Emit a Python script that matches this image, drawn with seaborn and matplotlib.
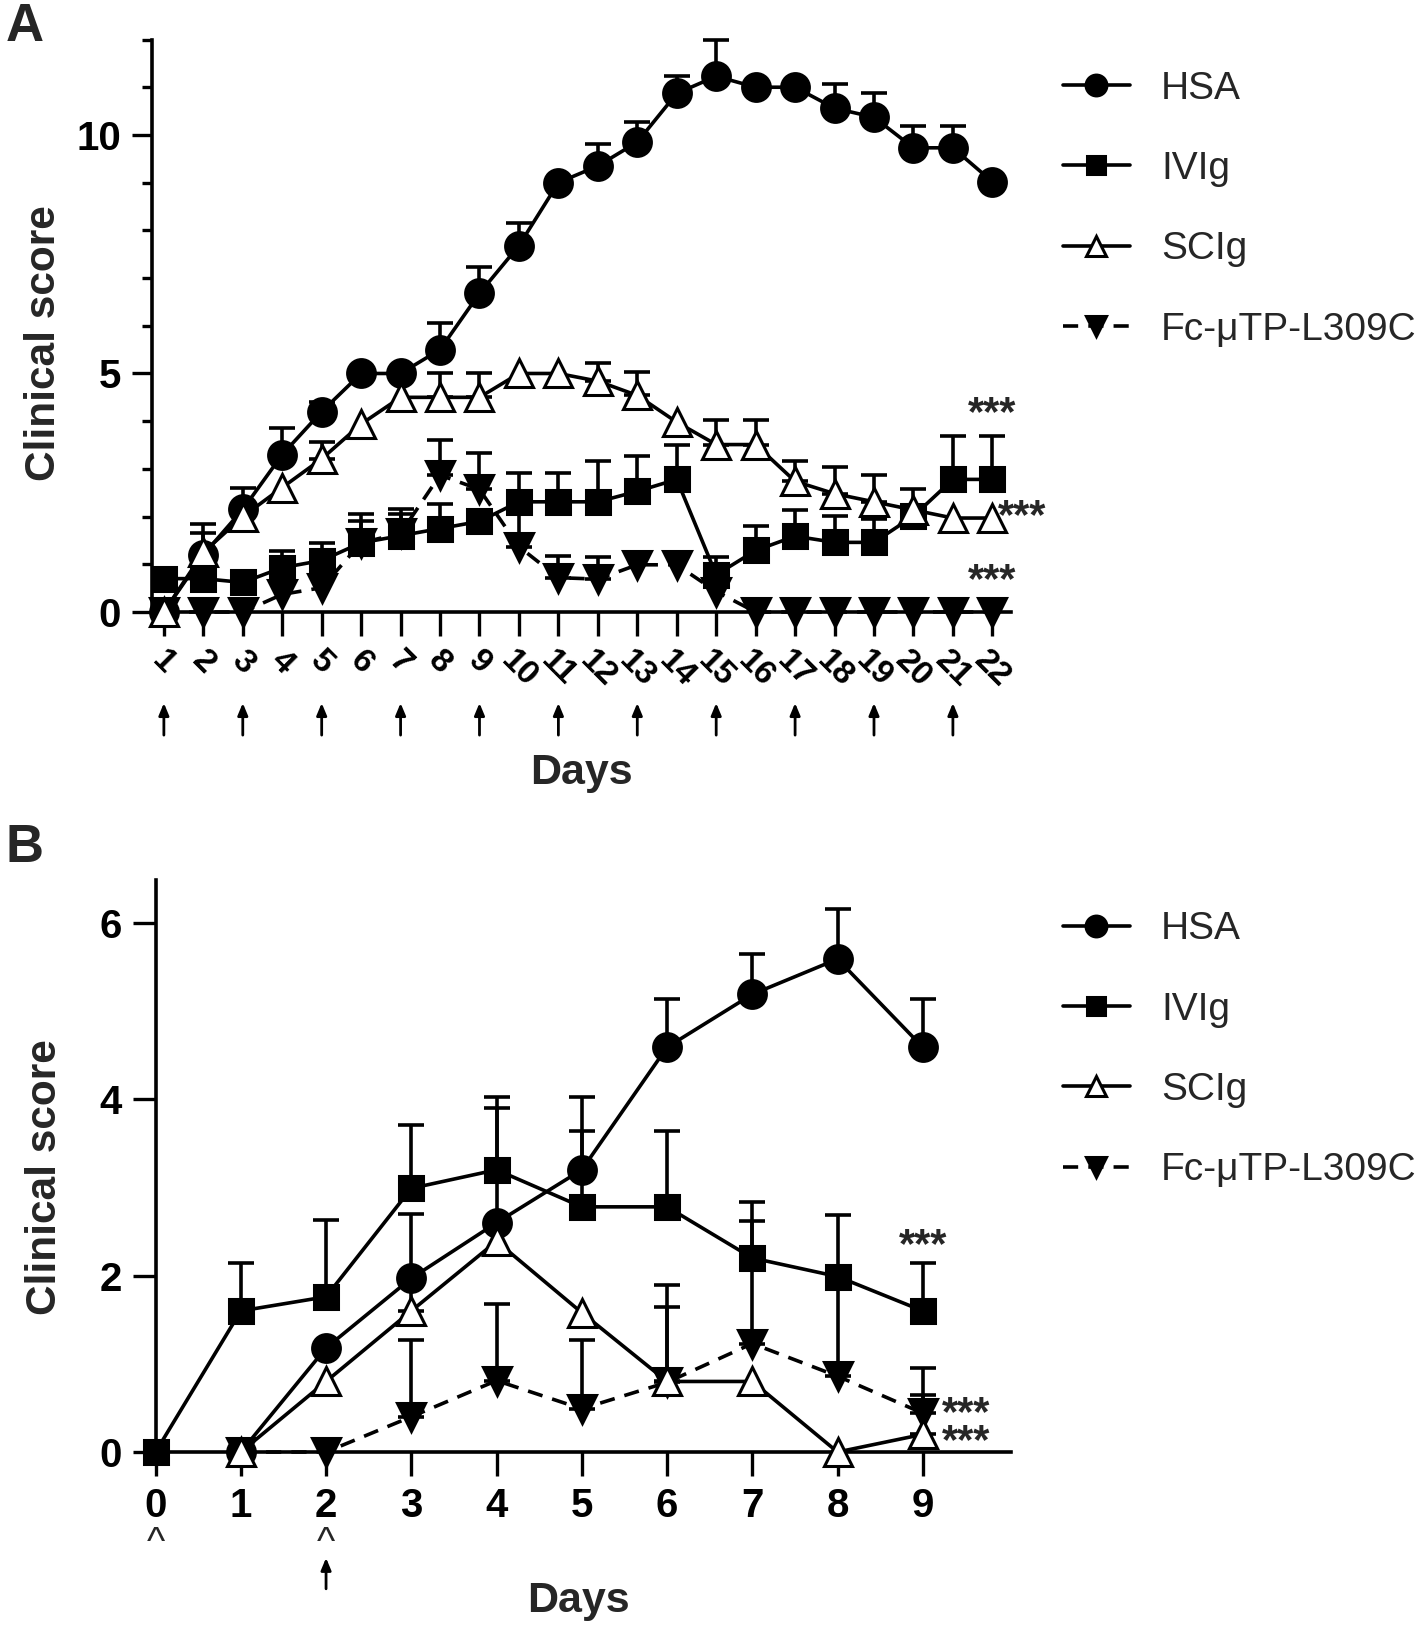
import numpy as np
import matplotlib.pyplot as plt
import seaborn as sns

# ---- panel A data (mean and upper SD) ----
days_a = list(range(1, 23))
hsa_a = [0, 1.2, 2.15, 3.3, 4.2, 5.0, 5.0, 5.5, 6.68, 7.68, 9.0, 9.35, 9.85, 10.87,
         11.23, 11.0, 11.0, 10.56, 10.37, 9.73, 9.73, 9.02]
hsa_a_sd = [0, 0.64, 0.45, 0.55, 0.2, 0, 0, 0.55, 0.55, 0.48, 0, 0.46, 0.42, 0.37,
            0.75, 0, 0, 0.5, 0.5, 0.45, 0.45, 0]
ivig_a = [0.7, 0.7, 0.62, 0.93, 1.08, 1.45, 1.6, 1.75, 1.9, 2.31, 2.31, 2.31, 2.53, 2.78,
          0.78, 1.29, 1.59, 1.46, 1.46, 2.01, 2.78, 2.78]
ivig_a_sd = [0, 0, 0, 0.35, 0.37, 0.6, 0.55, 0.52, 0, 0.6, 0.6, 0.86, 0.73, 0.73,
             0.38, 0.51, 0.55, 0.55, 0.5, 0, 0.9, 0.9]
scig_a = [0, 1.25, 2.0, 2.61, 3.21, 3.94, 4.5, 4.5, 4.5, 5.0, 5.0, 4.84, 4.54, 3.98,
          3.51, 3.51, 2.74, 2.48, 2.31, 2.14, 1.97, 1.97]
scig_a_sd = [0, 0.4, 0, 0, 0.35, 0, 0, 0.51, 0.51, 0, 0, 0.39, 0.5, 0,
             0.52, 0.52, 0.43, 0.56, 0.56, 0.43, 0, 0]
fc_a = [0, 0, 0, 0.37, 0.51, 1.45, 1.65, 2.87, 2.57, 1.37, 0.72, 0.69, 0.99, 0.99,
        0.43, 0, 0, 0, 0, 0, 0, 0]
fc_a_sd = [0, 0, 0, 0, 0, 0.45, 0.4, 0.73, 0.77, 0.95, 0.45, 0.47, 0, 0,
           0, 0, 0, 0, 0, 0, 0, 0]
arrow_days_a = [1, 3, 5, 7, 9, 11, 13, 15, 17, 19, 21]

# ---- panel B data ----
days_b_ivig = list(range(0, 10))
ivig_b = [0, 1.6, 1.76, 2.99, 3.2, 2.78, 2.78, 2.2, 1.99, 1.6]
ivig_b_sd = [0, 0.54, 0.87, 0.72, 0.83, 0.86, 0.86, 0.63, 0.7, 0.54]
days_b = list(range(1, 10))
hsa_b = [0, 1.18, 1.97, 2.6, 3.2, 4.59, 5.19, 5.59, 4.59]
hsa_b_sd = [0, 0, 0, 1.3, 0.83, 0.55, 0.46, 0.57, 0.55]
scig_b = [0, 0.8, 1.6, 2.39, 1.58, 0.8, 0.8, 0, 0.2]
scig_b_sd = [0, 0, 1.1, 0, 0, 0.84, 0, 0, 0.45]
fc_b = [0, 0, 0.4, 0.81, 0.49, 0.79, 1.23, 0.86, 0.44]
fc_b_sd = [0, 0, 0.87, 0.87, 0.78, 1.1, 1.39, 1.1, 0.51]

names = ['HSA', 'IVIg', 'SCIg', 'Fc-\u03bcTP-L309C']

sns.set_theme(style='ticks')
plt.rcParams['font.family'] = ['Liberation Sans', 'DejaVu Sans']

LW = 2.6
styles = {
    'HSA': dict(marker='o', markersize=20, markerfacecolor='black', linestyle='-'),
    'IVIg': dict(marker='s', markersize=17.5, markerfacecolor='black', linestyle='-'),
    'SCIg': dict(marker='^', markersize=20, markerfacecolor='white', linestyle='-'),
    'Fc-\u03bcTP-L309C': dict(marker='v', markersize=20, markerfacecolor='black',
                             linestyle=(0, (4.2, 2.8))),
}


def draw(ax, x, y, sd, name):
    x = np.asarray(x)
    y = np.asarray(y, dtype=float)
    sd = np.asarray(sd, dtype=float)
    m = sd > 0
    ax.errorbar(x[m], y[m], yerr=[np.zeros(m.sum()), sd[m]], fmt='none', ecolor='black',
                elinewidth=LW, capsize=9.5, capthick=LW, zorder=2.6, clip_on=False)
    sns.lineplot(x=x, y=y, ax=ax, color='black', linewidth=LW, markeredgecolor='black',
                 markeredgewidth=2.2, label=name, zorder=3, clip_on=False, **styles[name])


def style_axes(ax):
    for s in ['top', 'right']:
        ax.spines[s].set_visible(False)
    for s in ['left', 'bottom']:
        ax.spines[s].set_linewidth(2.6)
        ax.spines[s].set_color('black')


fig = plt.figure(figsize=(14.18, 16.26), dpi=100)

# ================= Panel A =================
axA = fig.add_axes([0.1075, 0.6236, 0.6054, 0.3521])
draw(axA, days_a, hsa_a, hsa_a_sd, 'HSA')
draw(axA, days_a, ivig_a, ivig_a_sd, 'IVIg')
draw(axA, days_a, fc_a, fc_a_sd, 'Fc-\u03bcTP-L309C')
draw(axA, days_a, scig_a, scig_a_sd, 'SCIg')
style_axes(axA)
axA.set_xlim(0.71, 22.47)
axA.set_ylim(0, 12)
axA.set_yticks([0, 5, 10])
axA.set_yticks(range(0, 13), minor=True)
axA.set_yticklabels(['0', '5', '10'], fontsize=29, fontweight='bold')
axA.set_xticks(days_a)
axA.set_xticklabels([str(d) for d in days_a], rotation=-45, ha='center', va='top',
                    fontsize=24, fontweight='bold')
axA.tick_params(axis='y', which='major', length=14.5, width=2.4, pad=8, colors='black')
axA.tick_params(axis='y', which='minor', length=7.5, width=2.4, colors='black')
axA.tick_params(axis='x', which='major', length=17, width=2.4, pad=7, colors='black')
axA.set_xlabel('')
axA.set_ylabel('')
axA.text(-0.126, 0.47, 'Clinical score', transform=axA.transAxes, rotation=90,
         ha='center', va='center', fontsize=30.5, fontweight='bold')
axA.text(0.5, -0.281, 'Days', transform=axA.transAxes, ha='center', va='center',
         fontsize=31, fontweight='bold')
for d in arrow_days_a:
    axA.annotate('', xy=(d, -0.159), xytext=(d, -0.215),
                 xycoords=('data', 'axes fraction'), textcoords=('data', 'axes fraction'),
                 arrowprops=dict(arrowstyle='-|>,head_length=0.6,head_width=0.25',
                                 color='black', lw=2.0, shrinkA=0, shrinkB=0),
                 annotation_clip=False)
axA.text(22, 4.15, '***', ha='center', va='center', fontsize=30, fontweight='bold')
axA.text(22.75, 2.0, '***', ha='center', va='center', fontsize=30, fontweight='bold',
         clip_on=False)
axA.text(22, 0.65, '***', ha='center', va='center', fontsize=30, fontweight='bold')

# ================= Panel B =================
axB = fig.add_axes([0.1097, 0.107, 0.603, 0.352])
draw(axB, days_b, hsa_b, hsa_b_sd, 'HSA')
draw(axB, days_b_ivig, ivig_b, ivig_b_sd, 'IVIg')
draw(axB, days_b, fc_b, fc_b_sd, 'Fc-\u03bcTP-L309C')
draw(axB, days_b, scig_b, scig_b_sd, 'SCIg')
style_axes(axB)
axB.set_xlim(0, 10.03)
axB.set_ylim(0, 6.49)
axB.set_yticks([0, 2, 4, 6])
axB.set_yticklabels(['0', '2', '4', '6'], fontsize=29, fontweight='bold')
axB.set_xticks(days_b_ivig)
axB.set_xticklabels([str(d) for d in days_b_ivig], fontsize=29, fontweight='bold')
axB.tick_params(axis='y', length=16.5, width=2.4, pad=8, colors='black')
axB.tick_params(axis='x', length=17, width=2.4, pad=8, colors='black')
axB.set_xlabel('')
axB.set_ylabel('')
axB.text(-0.129, 0.48, 'Clinical score', transform=axB.transAxes, rotation=90,
         ha='center', va='center', fontsize=30.5, fontweight='bold')
fig.text(0.408, 0.003, 'Days', ha='center', va='bottom', fontsize=31, fontweight='bold')
for d in [0, 2]:
    axB.text(d, -0.178, '^', transform=axB.get_xaxis_transform(), ha='center',
             va='baseline', fontsize=28)
axB.annotate('', xy=(2, -0.185), xytext=(2, -0.239),
             xycoords=('data', 'axes fraction'), textcoords=('data', 'axes fraction'),
             arrowprops=dict(arrowstyle='-|>,head_length=0.6,head_width=0.25',
                             color='black', lw=2.0, shrinkA=0, shrinkB=0),
             annotation_clip=False)
axB.text(9.0, 2.33, '***', ha='center', va='center', fontsize=30, fontweight='bold')
axB.text(9.22, 0.27, '***\n***', ha='left', va='center', fontsize=30, fontweight='bold',
         linespacing=0.62, clip_on=False)

# legends
for ax, ytop in [(axA, 0.9565), (axB, 0.4395)]:
    h, l = ax.get_legend_handles_labels()
    order = [l.index(n) for n in names]
    ax.legend([h[i] for i in order], [l[i] for i in order], loc='upper left',
              bbox_to_anchor=(0.7496, ytop), bbox_transform=fig.transFigure,
              frameon=False, fontsize=28, handlelength=1.72, handletextpad=0.8,
              labelspacing=1.14, borderpad=0, borderaxespad=0, markerscale=0.75)

fig.text(0.004, 0.999, 'A', ha='left', va='top', fontsize=38, fontweight='bold')
fig.text(0.004, 0.494, 'B', ha='left', va='top', fontsize=38, fontweight='bold')

fig.savefig('out.png', dpi=100, facecolor='white')
